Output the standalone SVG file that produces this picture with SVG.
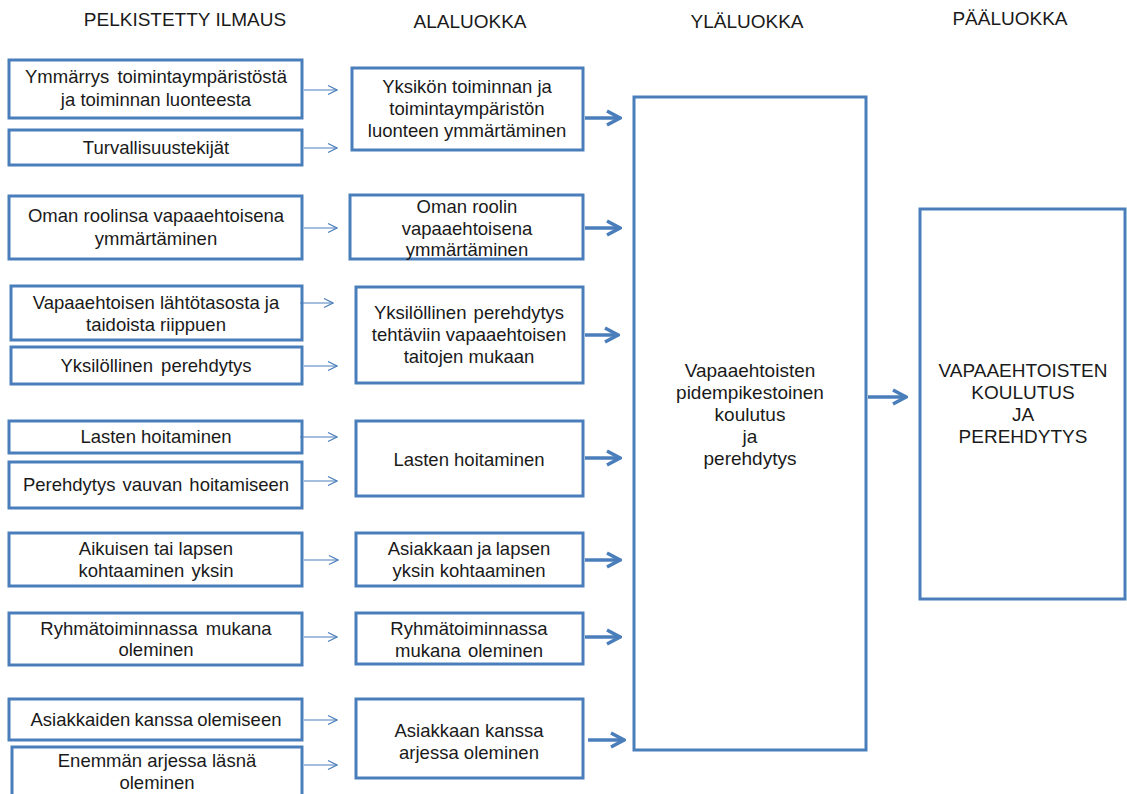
<svg xmlns="http://www.w3.org/2000/svg" width="1127" height="794" viewBox="0 0 1127 794">
  <defs>
    <style>
      .box { fill: #ffffff; stroke: #4a7ebb; stroke-width: 3; }
      .t { font-family: "Liberation Sans", Arial, sans-serif; font-size: 18.5px; fill: #1a1a1a; text-anchor: middle; }
      .big { font-size: 19px; }
      .h { font-family: "Liberation Sans", Arial, sans-serif; font-size: 19px; fill: #1a1a1a; text-anchor: middle; }
      .thin { stroke: #4a7ebb; stroke-width: 1.2; fill: none; }
      .thick { stroke: #4a7ebb; stroke-width: 3.5; fill: none; }
    </style>
    <marker id="openThin" viewBox="0 0 12 12" refX="11" refY="6" markerWidth="12" markerHeight="12" markerUnits="userSpaceOnUse" orient="auto">
      <path d="M2,1.5 L11,6 L2,10.5" fill="none" stroke="#4a7ebb" stroke-width="1.2"/>
    </marker>
    <marker id="openThick" viewBox="0 0 18 18" refX="16" refY="9" markerWidth="18" markerHeight="18" markerUnits="userSpaceOnUse" orient="auto">
      <path d="M3,2 L16,9 L3,16" fill="none" stroke="#4a7ebb" stroke-width="3.5"/>
    </marker>
  </defs>
  <rect width="1127" height="794" fill="#ffffff"/>

  <!-- column headings -->
  <g id="headings">
    <text class="h" x="185" y="26">PELKISTETTY ILMAUS</text>
    <text class="h" x="470" y="28">ALALUOKKA</text>
    <text class="h" x="747" y="28">YLÄLUOKKA</text>
    <text class="h" x="1010" y="25">PÄÄLUOKKA</text>
  </g>

  <!-- reduced expressions -->
  <g id="p1"><rect class="box" x="9" y="60" width="293" height="58"/>
    <text class="t" x="156" y="83" word-spacing="3">Ymmärrys toimintaympäristöstä</text>
    <text class="t" x="156" y="106">ja toiminnan luonteesta</text></g>
  <g id="p2"><rect class="box" x="9" y="130" width="293" height="35"/>
    <text class="t" x="156" y="154">Turvallisuustekijät</text></g>
  <g id="p3"><rect class="box" x="9" y="196" width="293" height="63"/>
    <text class="t" x="156" y="222">Oman roolinsa vapaaehtoisena</text>
    <text class="t" x="156" y="245">ymmärtäminen</text></g>
  <g id="p4"><rect class="box" x="11" y="286" width="291" height="54"/>
    <text class="t" x="156" y="309">Vapaaehtoisen lähtötasosta ja</text>
    <text class="t" x="156" y="331">taidoista riippuen</text></g>
  <g id="p5"><rect class="box" x="11" y="347" width="291" height="37"/>
    <text class="t" x="156" y="372" word-spacing="3">Yksilöllinen perehdytys</text></g>
  <g id="p6"><rect class="box" x="9" y="421" width="293" height="32"/>
    <text class="t" x="156" y="443">Lasten hoitaminen</text></g>
  <g id="p7"><rect class="box" x="9" y="462" width="293" height="46"/>
    <text class="t" x="156" y="491" word-spacing="2">Perehdytys vauvan hoitamiseen</text></g>
  <g id="p8"><rect class="box" x="9" y="533" width="293" height="53"/>
    <text class="t" x="156" y="555">Aikuisen tai lapsen</text>
    <text class="t" x="156" y="577" word-spacing="2">kohtaaminen yksin</text></g>
  <g id="p9"><rect class="box" x="9" y="613" width="293" height="52"/>
    <text class="t" x="156" y="635" word-spacing="3">Ryhmätoiminnassa mukana</text>
    <text class="t" x="156" y="656">oleminen</text></g>
  <g id="p10"><rect class="box" x="9" y="699" width="293" height="41"/>
    <text class="t" x="156" y="726" word-spacing="-1">Asiakkaiden kanssa olemiseen</text></g>
  <g id="p11"><rect class="box" x="12" y="747" width="290" height="52"/>
    <text class="t" x="157" y="767">Enemmän arjessa läsnä</text>
    <text class="t" x="157" y="789">oleminen</text></g>

  <!-- subcategories -->
  <g id="s1"><rect class="box" x="352" y="68" width="231" height="82"/>
    <text class="t" x="467" y="93">Yksikön toiminnan ja</text>
    <text class="t" x="467" y="115">toimintaympäristön</text>
    <text class="t" x="467" y="137">luonteen ymmärtäminen</text></g>
  <g id="s2"><rect class="box" x="350" y="195" width="233" height="64"/>
    <text class="t" x="467" y="213">Oman roolin</text>
    <text class="t" x="467" y="235">vapaaehtoisena</text>
    <text class="t" x="467" y="256">ymmärtäminen</text></g>
  <g id="s3"><rect class="box" x="356" y="287" width="227" height="96"/>
    <text class="t" x="469" y="319" word-spacing="2">Yksilöllinen perehdytys</text>
    <text class="t" x="469" y="341">tehtäviin vapaaehtoisen</text>
    <text class="t" x="469" y="363">taitojen mukaan</text></g>
  <g id="s4"><rect class="box" x="356" y="421" width="227" height="75"/>
    <text class="t" x="469" y="466">Lasten hoitaminen</text></g>
  <g id="s5"><rect class="box" x="356" y="533" width="227" height="53"/>
    <text class="t" x="469" y="555" word-spacing="-1">Asiakkaan ja lapsen</text>
    <text class="t" x="469" y="577">yksin kohtaaminen</text></g>
  <g id="s6"><rect class="box" x="356" y="613" width="227" height="51"/>
    <text class="t" x="469" y="635">Ryhmätoiminnassa</text>
    <text class="t" x="469" y="657" word-spacing="2">mukana oleminen</text></g>
  <g id="s7"><rect class="box" x="356" y="699" width="227" height="79"/>
    <text class="t" x="469" y="737">Asiakkaan kanssa</text>
    <text class="t" x="469" y="759">arjessa oleminen</text></g>

  <!-- upper category -->
  <g id="u1"><rect class="box" x="634" y="97" width="232" height="653"/>
    <text class="t big" x="750" y="377">Vapaaehtoisten</text>
    <text class="t big" x="750" y="399">pidempikestoinen</text>
    <text class="t big" x="750" y="421">koulutus</text>
    <text class="t big" x="750" y="443">ja</text>
    <text class="t big" x="750" y="465">perehdytys</text></g>

  <!-- main category -->
  <g id="m1"><rect class="box" x="920" y="209" width="205" height="390"/>
    <text class="t big" x="1023" y="377">VAPAAEHTOISTEN</text>
    <text class="t big" x="1023" y="399">KOULUTUS</text>
    <text class="t big" x="1023" y="421">JA</text>
    <text class="t big" x="1023" y="443">PEREHDYTYS</text></g>

  <!-- connectors -->
  <g id="connectors">
    <line class="thin" x1="304" y1="90" x2="337" y2="90" marker-end="url(#openThin)"/>
    <line class="thin" x1="304" y1="148" x2="337" y2="148" marker-end="url(#openThin)"/>
    <line class="thin" x1="304" y1="228" x2="337" y2="228" marker-end="url(#openThin)"/>
    <line class="thin" x1="300" y1="303" x2="333" y2="303" marker-end="url(#openThin)"/>
    <line class="thin" x1="304" y1="366" x2="337" y2="366" marker-end="url(#openThin)"/>
    <line class="thin" x1="300" y1="437" x2="337" y2="437" marker-end="url(#openThin)"/>
    <line class="thin" x1="304" y1="481" x2="337" y2="481" marker-end="url(#openThin)"/>
    <line class="thin" x1="304" y1="560" x2="338" y2="560" marker-end="url(#openThin)"/>
    <line class="thin" x1="304" y1="637" x2="337" y2="637" marker-end="url(#openThin)"/>
    <line class="thin" x1="304" y1="720" x2="337" y2="720" marker-end="url(#openThin)"/>
    <line class="thin" x1="304" y1="765" x2="337" y2="765" marker-end="url(#openThin)"/>

    <line class="thick" x1="585" y1="118" x2="620" y2="118" marker-end="url(#openThick)"/>
    <line class="thick" x1="585" y1="228" x2="620" y2="228" marker-end="url(#openThick)"/>
    <line class="thick" x1="585" y1="335" x2="618" y2="335" marker-end="url(#openThick)"/>
    <line class="thick" x1="585" y1="458" x2="620" y2="458" marker-end="url(#openThick)"/>
    <line class="thick" x1="585" y1="560" x2="620" y2="560" marker-end="url(#openThick)"/>
    <line class="thick" x1="585" y1="637" x2="620" y2="637" marker-end="url(#openThick)"/>
    <line class="thick" x1="588" y1="740" x2="624" y2="740" marker-end="url(#openThick)"/>
    <line class="thick" x1="868" y1="397" x2="906" y2="397" marker-end="url(#openThick)"/>
  </g>
</svg>
